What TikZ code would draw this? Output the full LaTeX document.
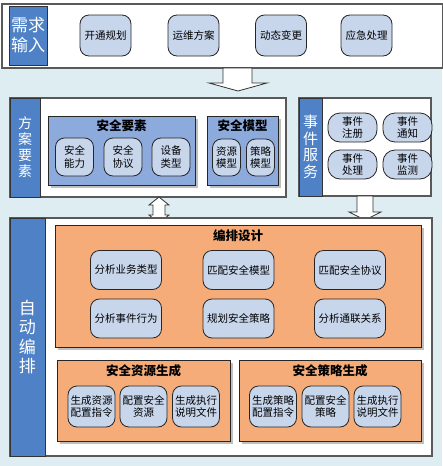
\documentclass[tikz,border=0pt]{standalone}
\usepackage{fontspec}
\setmainfont{Noto Sans CJK SC}
\usepackage{xcolor}
\definecolor{bg}{HTML}{DEEDF1}
\definecolor{stripblue}{HTML}{4F81C7}
\definecolor{setblue}{HTML}{8DAADC}
\definecolor{pillblue}{HTML}{C8D6EC}
\definecolor{orng}{HTML}{F6AC78}
\usetikzlibrary{shadows}

\begin{document}
\begin{tikzpicture}[x=1pt, y=-1pt,
  panel/.style={draw=black!65, fill=white, line width=1.1pt, inner sep=0pt},
  strip/.style={draw=black!80, fill=stripblue, text=white, align=center, inner sep=0pt, line width=0.8pt},
  group/.style={draw=black!85, line width=0.8pt, inner sep=0pt, drop shadow={shadow xshift=3pt, shadow yshift=-3pt, fill=black!25, opacity=1}},
  pill/.style={draw=black!85, fill=pillblue, rounded corners=9pt, line width=0.8pt, align=center, inner sep=0pt, font=\fontsize{10.5}{12.5}\selectfont},
  title/.style={font=\bfseries\fontsize{12.5}{14}\selectfont},
  blockarrow/.style={draw=black!80, fill=white, line width=0.8pt, line join=miter}]
\useasboundingbox (0,0) rectangle (442,466);
\fill[white] (0,0) rectangle (442,466);
\fill[bg] (0,69) rectangle (442,466);

\node[panel, minimum width=441, minimum height=64] (need) at (222.5,36) {};
\node[strip, minimum width=38, minimum height=59, font=\fontsize{17}{20}\selectfont] (needlbl) at (28,35.5) {需求\\输入};
\foreach \x/\t/\n in {105.5/开通规划/open, 193.5/运维方案/ops, 281/动态变更/change, 366.5/应急处理/emerg}{
\node[pill, minimum width=51, minimum height=41] (\n) at (\x,35.5) {\t};
}
\draw[blockarrow] (223,68) -- (252,68) -- (252,83) -- (267,83) -- (238,91) -- (209,83) -- (223,83) -- cycle;

\node[panel, minimum width=276, minimum height=99] (plan) at (148,147.5) {};
\node[strip, minimum width=30, minimum height=99, font=\fontsize{14}{16}\selectfont] (planlbl) at (25,147.5) {方\\案\\要\\素};
\node[group, fill=setblue, minimum width=147, minimum height=69] (elem) at (121.5,150.5) {};
\node[title] (elemtitle) at (121.5,126) {安全要素};
\foreach \x/\t/\n in {74.5/安全\\能力/cap, 123/安全\\协议/proto, 171/设备\\类型/dev}{
\node[pill, minimum width=38, minimum height=38] (\n) at (\x,157) {\t};
}
\node[group, fill=setblue, minimum width=71, minimum height=69] (model) at (242.5,150.5) {};
\node[title] (modeltitle) at (242.5,126) {安全模型};
\foreach \x/\t/\n in {226.5/资源\\模型/resmodel, 260.5/策略\\模型/polmodel}{
\node[pill, minimum width=28, minimum height=37] (\n) at (\x,157.5) {\t};
}

\node[panel, minimum width=132, minimum height=98] (event) at (365,147) {};
\node[strip, minimum width=23, minimum height=98, font=\fontsize{15}{16.5}\selectfont] (eventlbl) at (310.5,147) {事\\件\\服\\务};
\foreach \x/\y/\t/\n in {352.5/127.5/事件\\注册/reg, 407.5/127.5/事件\\通知/notify, 352.5/164.5/事件\\处理/handle, 407.5/164.5/事件\\监测/monitor}{
\node[pill, rounded corners=12pt, minimum width=49, minimum height=29] (\n) at (\x,\y) {\t};
}

\draw[blockarrow] (159,197) -- (169,205) -- (165,205) -- (165,215) -- (169,215) -- (159,223) -- (149,215) -- (153,215) -- (153,205) -- (149,205) -- cycle;
\draw[blockarrow] (357,196) -- (373,196) -- (373,212) -- (381,212) -- (365,220) -- (349,212) -- (357,212) -- cycle;

\node[panel, minimum width=422, minimum height=238] (auto) at (221,337) {};
\node[strip, minimum width=35, minimum height=238, font=\fontsize{17}{19.5}\selectfont] (autolbl) at (27.5,337) {自\\动\\编\\排};
\node[group, fill=orng, minimum width=366, minimum height=122] (design) at (238,286) {};
\node[title] (designtitle) at (238,236) {编排设计};
\foreach \x/\y/\t/\n in {126/270/分析业务类型/biz, 238.5/270/匹配安全模型/matchmodel, 350/270/匹配安全协议/matchproto, 126/318.5/分析事件行为/evbeh, 238.5/318.5/规划安全策略/planpol, 350/318.5/分析通联关系/link}{
\node[pill, minimum width=71, minimum height=39] (\n) at (\x,\y) {\t};
}
\node[group, fill=orng, minimum width=173, minimum height=81] (resgen) at (143.5,400.5) {};
\node[title] (resgentitle) at (143.5,371) {安全资源生成};
\foreach \x/\t/\n in {91.5/生成资源\\配置指令/rescmd, 143.5/配置安全\\资源/rescfg, 196/生成执行\\说明文件/resdoc}{
\node[pill, minimum width=47, minimum height=41] (\n) at (\x,406.5) {\t};
}
\node[group, fill=orng, minimum width=182, minimum height=81] (polgen) at (330,400.5) {};
\node[title] (polgentitle) at (330,371) {安全策略生成};
\foreach \x/\t/\n in {273/生成策略\\配置指令/polcmd, 325.5/配置安全\\策略/polcfg, 377.5/生成执行\\说明文件/poldoc}{
\node[pill, minimum width=47, minimum height=41] (\n) at (\x,406.5) {\t};
}
\end{tikzpicture}
\end{document}
